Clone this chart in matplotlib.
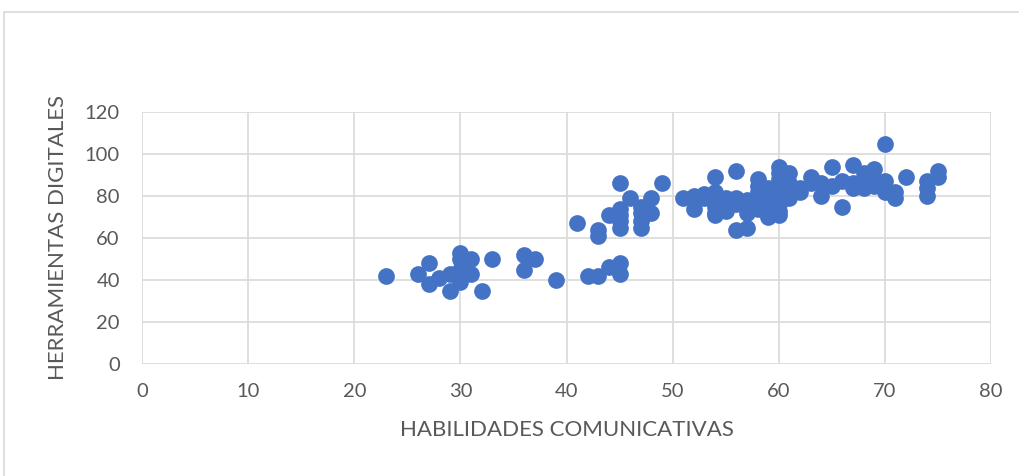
import matplotlib.pyplot as plt
from matplotlib.patches import Rectangle

plt.rcParams['font.family'] = ['Lato', 'DejaVu Sans']

# habilidades comunicativas (x) / herramientas digitales (y)
hab = [23, 26, 27, 27, 28, 29, 29, 30, 30, 30, 30, 30, 31, 31, 32, 33, 36, 36, 37, 39,
       42, 43, 44, 45, 45,
       41, 43, 43, 44, 45, 45, 45, 45, 45, 46, 47, 47, 47, 47, 48, 48, 49,
       51, 52, 52, 53, 53, 54, 54, 54, 54, 54, 54, 55, 55, 56, 56, 56, 56,
       57, 57, 57, 57, 58, 58, 58, 58, 58, 58, 59, 59, 59, 59, 59, 59,
       60, 60, 60, 60, 60, 60, 60, 60, 60, 61, 61, 61, 61, 62, 62, 63, 63, 64, 64,
       65, 65, 66, 66, 67, 67, 67, 68, 68, 68, 69, 69, 69, 70, 70, 70, 70, 71, 71,
       72, 74, 74, 74, 75, 75]
herr = [42, 43, 48, 38, 41, 43, 35, 53, 50, 45, 42, 39, 50, 43, 35, 50, 52, 45, 50, 40,
        42, 42, 46, 48, 43,
        67, 64, 61, 71, 86, 74, 71, 68, 65, 79, 75, 72, 68, 65, 79, 72, 86,
        79, 80, 74, 81, 79, 89, 82, 79, 75, 72, 71, 79, 73, 92, 79, 76, 64,
        78, 75, 72, 65, 88, 85, 82, 80, 77, 74, 84, 81, 78, 75, 72, 70,
        94, 91, 88, 85, 82, 79, 76, 73, 71, 91, 86, 83, 79, 82, 84, 86, 89, 80, 86,
        94, 85, 87, 75, 95, 86, 84, 91, 87, 84, 93, 88, 85, 105, 87, 84, 82, 82, 79,
        89, 87, 84, 80, 92, 89]

fig = plt.figure(figsize=(10.19, 4.76), dpi=100)
fig.patches.append(Rectangle((4 / 1019, -0.1), 1.2, 1 - 12 / 476 + 0.1,
                             transform=fig.transFigure, fill=False,
                             edgecolor='#D9D9D9', linewidth=1.2))

ax = fig.add_axes([142 / 1019, 1 - 364 / 476, (991 - 142) / 1019, (364 - 112) / 476])
ax.scatter(hab, herr, s=145, color='#4472C4', zorder=3, linewidths=0)

ax.set_xlim(0, 80)
ax.set_ylim(0, 120)
ax.set_xticks(range(0, 81, 10))
ax.set_yticks(range(0, 121, 20))
ax.grid(True, color='#D9D9D9', linewidth=1.2, zorder=0)
for s in ax.spines.values():
    s.set_visible(False)
ax.tick_params(length=0, labelsize=14.5, labelcolor='#595959')
ax.tick_params(axis='x', pad=14)
ax.tick_params(axis='y', pad=16)
ax.set_xlabel('HABILIDADES COMUNICATIVAS', fontsize=16, color='#595959', labelpad=14)
ax.set_ylabel('HERRAMIENTAS DIGITALES', fontsize=16, color='#595959', labelpad=12)

fig.savefig('out.png', dpi=100)
